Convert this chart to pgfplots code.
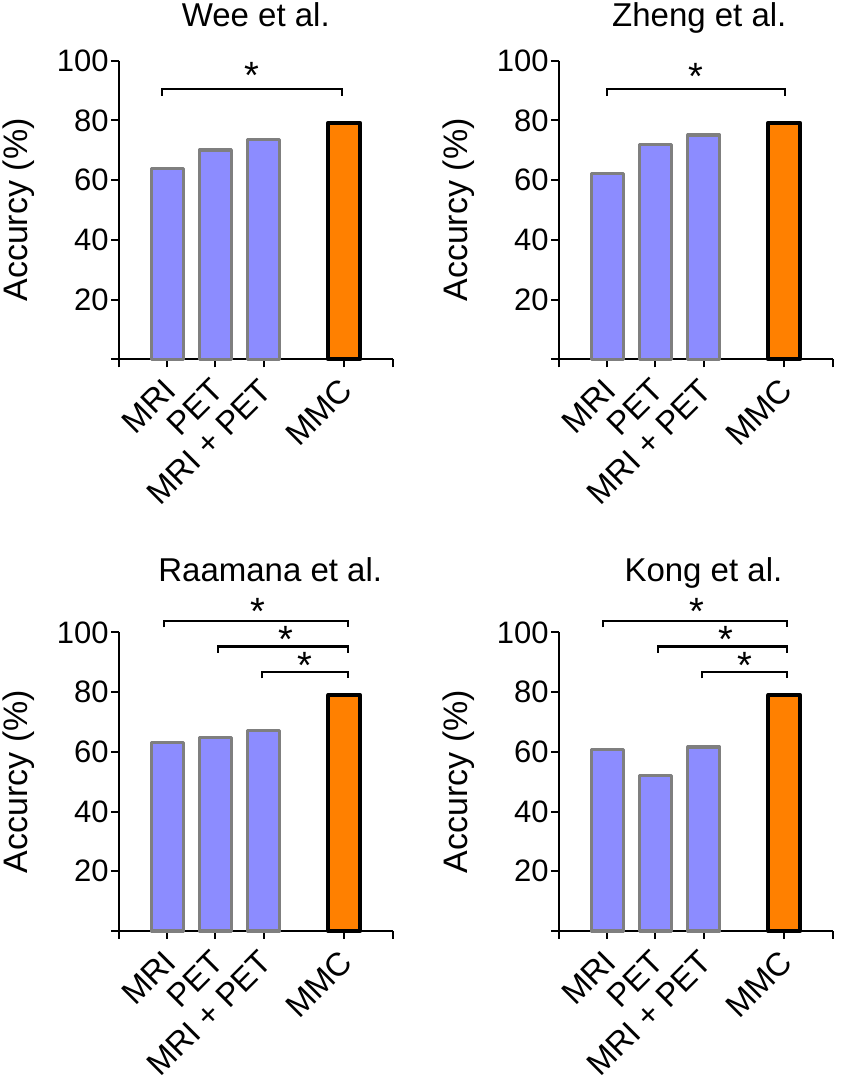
\documentclass[border=0pt]{standalone}
\usepackage{fontspec}
\setmainfont{Liberation Sans}
\usepackage{pgfplots}
\pgfplotsset{compat=1.18}

\definecolor{barblue}{HTML}{8C8CFF}
\definecolor{bargray}{HTML}{7F7F7F}
\definecolor{barorange}{HTML}{FF8000}

\tikzset{sigstar/.style={font=\fontsize{19}{22}\selectfont, anchor=base, inner sep=0pt}}

\pgfplotsset{
  panel/.style={
    anchor=south west,
    scale only axis,
    width=136.75pt, height=149.3pt,
    xmin=0, xmax=5.67, ymin=0, ymax=100,
    axis lines*=left,
    axis line style={line width=1pt, black},
    every tick/.style={black, line width=1pt},
    major tick length=4pt,
    tick align=outside,
    xtick={0,1,2,3,4.67,5.67},
    xticklabels={,MRI,PET,MRI + PET,MMC,},
    ytick={0,20,40,60,80,100},
    yticklabels={,20,40,60,80,100},
    /pgf/number format/assume math mode=true,
    yticklabel style={font=\fontsize{15.5}{18}\selectfont, inner sep=1pt},
    xticklabel style={font=\fontsize{16.3}{19}\selectfont, xshift=2pt, yshift=-8pt, rotate=45, anchor=east, inner sep=1pt},
    ylabel={Accurcy (\%)},
    every axis y label/.style={at={(axis description cs:-0.365,0.5)}, rotate=90, anchor=center, font=\fontsize{17}{19}\selectfont},
    title style={font=\fontsize{16.5}{19}\selectfont, anchor=base},
    clip=false,
  },
  bluebar/.style={ybar, bar width=0.66, bar shift=0pt, fill=barblue, draw=bargray, line width=1.6pt, line join=round},
  orangebar/.style={ybar, bar width=0.66, bar shift=0pt, fill=barorange, draw=black, line width=2pt, line join=round},
  bracket/.style={black, line width=1.1pt, mark=none, forget plot},
}

\begin{document}
\begin{tikzpicture}
\useasboundingbox (0,0) rectangle (425pt,540.5pt);

% Wee et al.
\begin{axis}[panel, at={(59.5pt,360.85pt)}, title={Wee et al.},
  title style={at={(axis description cs:0.5,1)}, yshift=11pt}]
\addplot[bluebar] coordinates {(1,64.0) (2,70.1) (3,73.5)};
\addplot[orangebar] coordinates {(4.67,79.2)};
\addplot[bracket] coordinates {(0.89,88.2) (0.89,90.4) (4.63,90.4) (4.63,88.2)};
\node[sigstar] at (axis cs:2.76,90.6) {*};
\end{axis}

% Zheng et al.
\begin{axis}[panel, at={(279.5pt,360.85pt)}, title={Zheng et al.},
  title style={at={(axis description cs:0.513,1)}, yshift=11pt}]
\addplot[bluebar] coordinates {(1,62.3) (2,71.8) (3,75.1)};
\addplot[orangebar] coordinates {(4.67,79.2)};
\addplot[bracket] coordinates {(1.0,88.2) (1.0,90.4) (4.68,90.4) (4.68,88.2)};
\node[sigstar] at (axis cs:2.84,90.3) {*};
\end{axis}

% Raamana et al.
\begin{axis}[panel, at={(59.5pt,75pt)}, title={Raamana et al.},
  title style={at={(axis description cs:0.553,1)}, yshift=19.5pt}]
\addplot[bluebar] coordinates {(1,63.2) (2,64.8) (3,67.2)};
\addplot[orangebar] coordinates {(4.67,79.0)};
\addplot[bracket] coordinates {(0.94,101.7) (0.94,103.9) (4.75,103.9) (4.75,101.7)};
\addplot[bracket] coordinates {(2.06,93.1) (2.06,95.3) (4.75,95.3) (4.75,93.1)};
\addplot[bracket] coordinates {(2.96,84.6) (2.96,86.8) (4.75,86.8) (4.75,84.6)};
\node[sigstar] at (axis cs:2.88,102.6) {*};
\node[sigstar] at (axis cs:3.47,93.1) {*};
\node[sigstar] at (axis cs:3.86,84.7) {*};
\end{axis}

% Kong et al.
\begin{axis}[panel, at={(279.5pt,75pt)}, title={Kong et al.},
  title style={at={(axis description cs:0.528,1)}, yshift=19.5pt}]
\addplot[bluebar] coordinates {(1,60.7) (2,52.0) (3,61.6)};
\addplot[orangebar] coordinates {(4.67,79.0)};
\addplot[bracket] coordinates {(0.91,101.7) (0.91,103.9) (4.73,103.9) (4.73,101.7)};
\addplot[bracket] coordinates {(2.06,93.1) (2.06,95.3) (4.73,95.3) (4.73,93.1)};
\addplot[bracket] coordinates {(2.96,84.6) (2.96,86.8) (4.73,86.8) (4.73,84.6)};
\node[sigstar] at (axis cs:2.85,102.6) {*};
\node[sigstar] at (axis cs:3.47,93.1) {*};
\node[sigstar] at (axis cs:3.86,84.7) {*};
\end{axis}
\end{tikzpicture}
\end{document}
